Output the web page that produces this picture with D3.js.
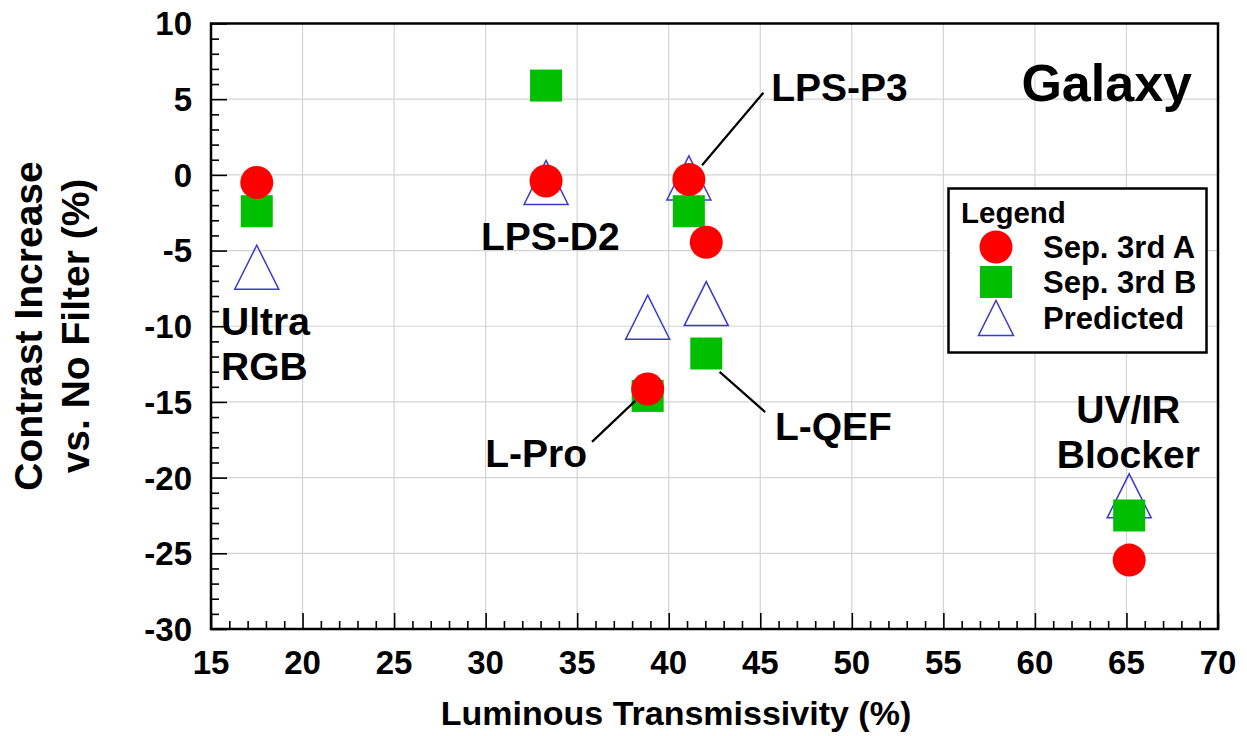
<!DOCTYPE html>
<html>
<head>
<meta charset="utf-8">
<script src="https://cdn.jsdelivr.net/npm/d3@7"></script>
<style>
  body { margin: 0; background: #fff; }
  text { font-family: "Liberation Sans", Arial, sans-serif; font-weight: bold; fill: #000; }
</style>
</head>
<body>
<svg id="chart" width="1247" height="736"></svg>
<script>
// filters, luminous transmissivity (%) and contrast increase (%)
var filters = ["Ultra RGB", "LPS-D2", "LPS-P3", "L-QEF", "L-Pro", "UV/IR Blocker"];
var transmissivity = [17.5, 33.3, 41.1, 42.05, 38.85, 65.15];
var sepA = [-0.5, -0.4, -0.3, -4.45, -14.15, -25.45];
var sepB = [-2.4, 5.9, -2.4, -11.8, -14.6, -22.5];
var predicted = [-6.1, -0.5, -0.2, -8.5, -9.4, -21.2];

var xTicks = [15, 20, 25, 30, 35, 40, 45, 50, 55, 60, 65, 70];
var yTicks = [-30, -25, -20, -15, -10, -5, 0, 5, 10];

var seriesNames = ["Sep. 3rd A", "Sep. 3rd B", "Predicted"];

// label text placed in data units
var labels = [
  { lines: ["Ultra", "RGB"], x: 15.55, y: -10.6, anchor: "start" },
  { lines: ["LPS-D2"], x: 33.53, y: -4.97, anchor: "middle" },
  { lines: ["LPS-P3"], x: 45.6, y: 4.89, anchor: "start" },
  { lines: ["L-QEF"], x: 45.8, y: -17.5, anchor: "start" },
  { lines: ["L-Pro"], x: 29.98, y: -19.3, anchor: "start" },
  { lines: ["UV/IR", "Blocker"], x: 65.1, y: -16.42, anchor: "middle" }
];
var leaders = [
  [[45.17, 5.42], [41.82, 0.64]],
  [[35.81, -17.64], [38.17, -14.93]],
  [[42.78, -13.01], [45.27, -15.67]]
];

var svg = d3.select("#chart");
var mLeft = 211, mRight = 1218, mTop = 23.5, mBottom = 629;

var x = d3.scaleLinear().domain([15, 70]).range([mLeft, mRight]);
var y = d3.scaleLinear().domain([-30, 10]).range([mBottom, mTop]);

// grid
var grid = svg.append("g");
grid.selectAll(".gx").data(xTicks.slice(1, -1)).enter().append("line")
  .attr("x1", d => x(d)).attr("x2", d => x(d))
  .attr("y1", mTop).attr("y2", mBottom)
  .attr("stroke", "#d4d4d4").attr("stroke-width", 1.2);
grid.selectAll(".gy").data(yTicks.slice(1, -1)).enter().append("line")
  .attr("y1", d => y(d)).attr("y2", d => y(d))
  .attr("x1", mLeft).attr("x2", mRight)
  .attr("stroke", "#d4d4d4").attr("stroke-width", 1.2);

// inward ticks on left and bottom (major 16px, minor 8px)
var xAxis = d3.axisBottom(x).tickValues(d3.range(15, 71, 1)).tickFormat("")
  .tickSize(0);
var gx = svg.append("g").attr("transform", "translate(0," + mBottom + ")").call(xAxis);
gx.select(".domain").remove();
gx.selectAll(".tick line")
  .attr("y2", d => (d % 5 === 0 ? -16 : -8))
  .attr("stroke", "#000").attr("stroke-width", 1.6);

var yAxis = d3.axisLeft(y).tickValues(d3.range(-30, 11, 1)).tickFormat("")
  .tickSize(0);
var gy = svg.append("g").attr("transform", "translate(" + mLeft + ",0)").call(yAxis);
gy.select(".domain").remove();
gy.selectAll(".tick line")
  .attr("x2", d => (d % 5 === 0 ? 16 : 8))
  .attr("stroke", "#000").attr("stroke-width", 1.6);

// tick labels
svg.append("g").selectAll("text").data(xTicks).enter().append("text")
  .attr("x", d => x(d)).attr("y", mBottom + 45)
  .attr("text-anchor", "middle").style("font-size", "33px")
  .text(d => d);
svg.append("g").selectAll("text").data(yTicks).enter().append("text")
  .attr("x", mLeft - 19).attr("y", d => y(d)).attr("dy", "0.36em")
  .attr("text-anchor", "end").style("font-size", "33px")
  .text(d => d);

// frame
svg.append("rect")
  .attr("x", mLeft).attr("y", mTop)
  .attr("width", mRight - mLeft).attr("height", mBottom - mTop)
  .attr("fill", "none").attr("stroke", "#000").attr("stroke-width", 2.5);

// axis titles
svg.append("text")
  .attr("x", 676).attr("y", 725)
  .attr("text-anchor", "middle").style("font-size", "34px")
  .text("Luminous Transmissivity (%)");
var yt = svg.append("text")
  .attr("transform", "translate(0,326) rotate(-90)")
  .attr("text-anchor", "middle").style("font-size", "39px");
yt.append("tspan").attr("x", 0).attr("y", 42).text("Contrast Increase");
yt.append("tspan").attr("x", 0).attr("y", 89).text("vs. No Filter (%)");

// chart title
svg.append("text")
  .attr("x", 1192).attr("y", 101)
  .attr("text-anchor", "end").style("font-size", "52px")
  .text("Galaxy");

// markers
function triPath(h) {
  return "M0," + (-h) + "L" + h + "," + h + "L" + (-h) + "," + h + "Z";
}

var pts = filters.map(function(f, i) {
  return { name: f, x: transmissivity[i], a: sepA[i], b: sepB[i], p: predicted[i] };
});

var marks = svg.append("g");
marks.selectAll(".tri").data(pts).enter().append("path")
  .attr("d", triPath(22))
  .attr("transform", d => "translate(" + x(d.x) + "," + y(d.p) + ")")
  .attr("fill", "none")
  .attr("stroke", "#3a3ad0").attr("stroke-width", 1.5);
marks.selectAll(".sq").data(pts).enter().append("rect")
  .attr("x", d => x(d.x) - 16).attr("y", d => y(d.b) - 16)
  .attr("width", 32).attr("height", 32)
  .attr("fill", "#00bf00");
marks.selectAll(".ci").data(pts).enter().append("circle")
  .attr("cx", d => x(d.x)).attr("cy", d => y(d.a))
  .attr("r", 16.5)
  .attr("fill", "#ff0000");

// leader lines
svg.append("g").selectAll("line").data(leaders).enter().append("line")
  .attr("x1", d => x(d[0][0])).attr("y1", d => y(d[0][1]))
  .attr("x2", d => x(d[1][0])).attr("y2", d => y(d[1][1]))
  .attr("stroke", "#000").attr("stroke-width", 2.2);

// filter labels
labels.forEach(function(l) {
  var t = svg.append("text")
    .attr("text-anchor", l.anchor).style("font-size", "39px");
  l.lines.forEach(function(s, j) {
    t.append("tspan").attr("x", x(l.x)).attr("y", y(l.y) + j * 45).text(s);
  });
});

// legend
var lg = svg.append("g");
lg.append("rect")
  .attr("x", 948.5).attr("y", 188.5).attr("width", 258).attr("height", 164)
  .attr("fill", "#fff").attr("stroke", "#000").attr("stroke-width", 2.5);
lg.append("text").attr("x", 961).attr("y", 223).style("font-size", "29.5px").text("Legend");
var rowsY = [247, 282, 318];
lg.append("circle").attr("cx", 996).attr("cy", rowsY[0]).attr("r", 16.5).attr("fill", "#ff0000");
lg.append("rect").attr("x", 980).attr("y", rowsY[1] - 16).attr("width", 32).attr("height", 32)
  .attr("fill", "#00bf00");
lg.append("path").attr("d", triPath(17.5))
  .attr("transform", "translate(996," + rowsY[2] + ")")
  .attr("fill", "none").attr("stroke", "#3a3ad0").attr("stroke-width", 1.5);
lg.selectAll(".lt").data(seriesNames).enter().append("text")
  .attr("x", 1043).attr("y", (d, i) => rowsY[i] + 11)
  .style("font-size", "31px")
  .text(d => d);
</script>
</body>
</html>
